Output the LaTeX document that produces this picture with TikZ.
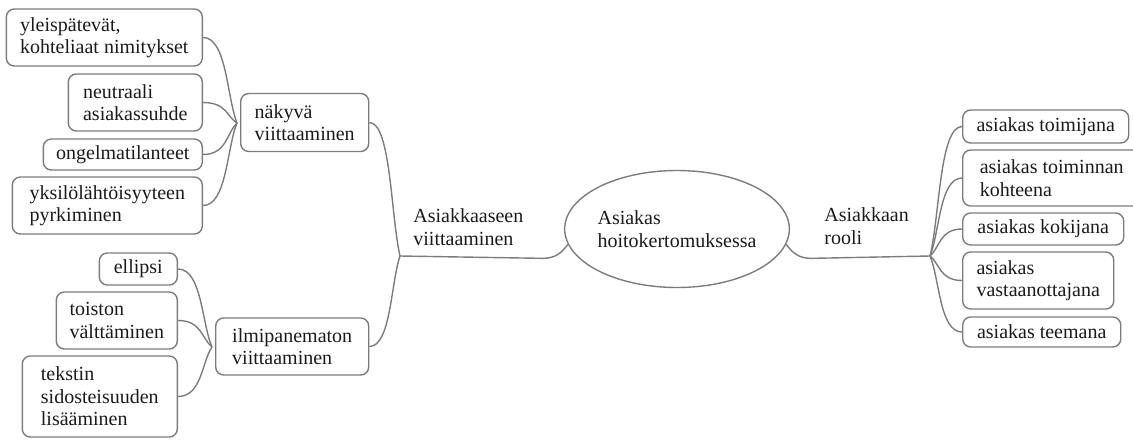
\documentclass[tikz,border=0pt]{standalone}
\usepackage{fontspec}
\setmainfont{Liberation Serif}
\usetikzlibrary{shapes.geometric,calc}
\definecolor{linegray}{HTML}{7C7C7C}
\definecolor{txt}{HTML}{1A1A1A}
\tikzset{
  txtfont/.style={font=\fontsize{10}{11.25}\selectfont, text=txt},
  box/.style={txtfont, draw=linegray, line width=0.7pt, rounded corners=4pt,
    align=left, inner xsep=0pt, inner ysep=0pt},
  lbl/.style={txtfont, align=left, inner sep=0pt},
  conn/.style={draw=linegray, line width=0.7pt},
  branch/.style={to path={let \p1=($(\tikztostart)!0.3!(\tikztotarget)$),
     \p2=(\tikztotarget) in .. controls (\p1) and (\x1,\y2) .. (\tikztotarget)}},
}
\begin{document}
\begin{tikzpicture}[x=0.5pt,y=-0.5pt]
\useasboundingbox (0,0) rectangle (1133,439);

% left group 1
\node[box, anchor=east, minimum width=98pt, minimum height=28.5pt] (y1) at (203,37.5) {yleispätevät,\\kohteliaat nimitykset};
\node[box, anchor=east, minimum width=67pt, minimum height=28.5pt] (n1) at (203,102.5) {neutraali\\asiakassuhde};
\node[box, anchor=east, minimum width=79.5pt, minimum height=15.5pt] (o1) at (203,154.5) {ongelmatilanteet};
\node[box, anchor=east, minimum width=95pt, minimum height=28.5pt] (k1) at (203,205.5) {yksilölähtöisyyteen\\pyrkiminen};
\node[box, anchor=west, minimum width=64pt, minimum height=29pt] (nak) at (240,122.5) {näkyvä\\viittaaminen};

% left group 2
\node[box, anchor=east, minimum width=39pt, minimum height=16pt] (e1) at (178,269) {ellipsi};
\node[box, anchor=east, minimum width=60.5pt, minimum height=28.5pt] (t1) at (178,320.5) {toiston\\välttäminen};
\node[box, anchor=east, minimum width=77.5pt, minimum height=40.5pt] (s1) at (178,396.5) {tekstin\\sidosteisuuden\\lisääminen};
\node[box, anchor=west, minimum width=76.5pt, minimum height=28.5pt] (ilm) at (215,346.5) {ilmipanematon\\viittaaminen};

% centre
\node[lbl, anchor=west] (av) at (413,227) {Asiakkaaseen\\viittaaminen};
\node[ellipse, draw=linegray, line width=0.7pt, txtfont, align=left, inner sep=0pt,
      minimum width=100pt, minimum height=58.5pt] (ell) at (677,229) {Asiakas\\hoitokertomuksessa};
\node[lbl, anchor=west] (ar) at (824,226) {Asiakkaan\\rooli};

% right group
\node[box, anchor=west, minimum width=83pt, minimum height=16.5pt] (r1) at (962,126.5) {asiakas toimijana};
\node[box, anchor=west, minimum width=89pt, minimum height=28pt] (r2) at (962,178) {asiakas toiminnan\\kohteena};
\node[box, anchor=west, minimum width=80.5pt, minimum height=16pt] (r3) at (962,229) {asiakas kokijana};
\node[box, anchor=west, minimum width=75.5pt, minimum height=28.5pt] (r4) at (962,280.5) {asiakas\\vastaanottajana};
\node[box, anchor=west, minimum width=79pt, minimum height=15pt] (r5) at (962,332) {asiakas teemana};

% junctions
\coordinate (N1) at (237,123);
\coordinate (N2) at (212,347);
\coordinate (J) at (400,256);
\coordinate (R) at (930,256);

% connectors
\foreach \c in {y1,n1,o1,k1} \draw[conn] (N1) to[branch] (\c.east);
\foreach \c in {e1,t1,s1} \draw[conn] (N2) to[branch] (\c.east);
\foreach \c in {r1,r2,r3,r4,r5} \draw[conn] (R) to[branch] (\c.west);
\draw[conn] (J) to[branch] (nak.east);
\draw[conn] (J) to[branch] (ilm.east);
\draw[conn] (J) -- ($(ell.188)+(-25,14)$) .. controls ($(ell.188)+(-12,14)$) and ($(ell.188)+(-6,8)$) .. (ell.188);
\draw[conn] (ell.-8) .. controls ($(ell.-8)+(6,8)$) and ($(ell.-8)+(12,14)$) .. ($(ell.-8)+(25,14)$) -- (R);
\end{tikzpicture}
\end{document}
